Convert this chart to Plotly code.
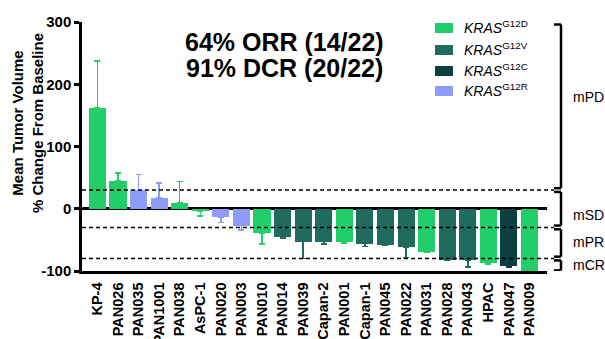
import plotly.graph_objects as go

# Cell-line / PDX models, in waterfall order
models = ["KP-4", "PAN026", "PAN035", "PAN1001", "PAN038", "AsPC-1", "PAN020",
          "PAN003", "PAN010", "PAN014", "PAN039", "Capan-2", "PAN001", "Capan-1",
          "PAN045", "PAN022", "PAN031", "PAN028", "PAN043", "HPAC", "PAN047", "PAN009"]
# Mean tumor volume % change from baseline
mean_change = [162, 45, 29.5, 17.7, 9.7, -4.3, -14, -27, -39, -44.6, -52.7, -52.7,
               -54, -56, -59, -62, -69, -82, -82, -86.5, -92, -100]
# One-sided error (away from zero)
error = [75, 12.5, 25.5, 23.7, 34, 7, 8, 7, 18, 2.4, 27.3, 3.8,
         1, 5, 0, 16.5, 1, 1, 11.5, 2.5, 2, 0]
# KRAS mutation of each model
mutation = ["G12D", "G12D", "G12R", "G12R", "G12D", "G12D", "G12R", "G12R", "G12D",
            "G12V", "G12V", "G12V", "G12D", "G12V", "G12V", "G12V", "G12D", "G12V",
            "G12V", "G12D", "G12C", "G12D"]

mutation_order = ["G12D", "G12V", "G12C", "G12R"]
mutation_colors = {"G12D": "#22CE6A", "G12V": "#1F6B5E", "G12C": "#0C4040", "G12R": "#8F9BFA"}

# Response thresholds (dashed reference lines)
thresholds = [30, -30, -80]
# Response categories with their bracket spans
response_labels = ["mPD", "mSD", "mPR", "mCR"]
response_spans = [(296, 33), (27, -27), (-33, -77), (-83, -99)]
response_label_y = [180, -10, -53, -90]

y_ticks = [300, 200, 100, 0, -100]

W, H = 605, 339
ML, MR, MT, MB = 82, 58, 22, 68
PW, PH = W - ML - MR, H - MT - MB


def px_x(px):
    return (px - ML) / PW


def px_y(py):
    return (H - MB - py) / PH


FONT = "Liberation Sans, Arial, Helvetica, sans-serif"

fig = go.Figure()

for i, m in enumerate(models):
    v = mean_change[i]
    e = error[i]
    col = mutation_colors[mutation[i]]
    fig.add_trace(go.Bar(
        x=[m], y=[v], width=0.83,
        marker=dict(color=col, line=dict(width=0)),
        error_y=dict(type="data", symmetric=False,
                     array=[e if v > 0 else 0], arrayminus=[e if v < 0 else 0],
                     color=col, thickness=1.5, width=3),
        showlegend=False,
    ))

shapes = []
# Dashed threshold lines running out to the bracket
for t in thresholds:
    shapes.append(dict(type="line", xref="paper", yref="y", x0=0, x1=px_x(554),
                       y0=t, y1=t, line=dict(color="black", width=1.5, dash="4px,3px")))

# Response brackets on the right
bx = px_x(561)
tx = px_x(554)
for (top, bot) in response_spans:
    shapes.append(dict(type="line", xref="paper", yref="y", x0=bx, x1=bx, y0=top, y1=bot,
                       line=dict(color="black", width=2.5)))
    shapes.append(dict(type="line", xref="paper", yref="y", x0=tx, x1=bx, y0=top, y1=top,
                       line=dict(color="black", width=2.5)))
    shapes.append(dict(type="line", xref="paper", yref="y", x0=tx, x1=bx, y0=bot, y1=bot,
                       line=dict(color="black", width=2.5)))

annotations = []
for lab, yv in zip(response_labels, response_label_y):
    annotations.append(dict(text=lab, xref="paper", yref="y", x=px_x(571), y=yv,
                            xanchor="left", yanchor="middle", showarrow=False,
                            font=dict(family=FONT, size=14, color="black")))

# Legend drawn as swatches and labels
legend_y = [28, 50, 71, 91]
for mut, ly in zip(mutation_order, legend_y):
    shapes.append(dict(type="rect", xref="paper", yref="paper",
                       x0=px_x(435), x1=px_x(453), y0=px_y(ly - 5), y1=px_y(ly + 5),
                       fillcolor=mutation_colors[mut], line=dict(width=0)))
    annotations.append(dict(text=f"<i>KRAS</i><sup>{mut}</sup>", xref="paper", yref="paper",
                            x=px_x(462), y=px_y(ly - 1), xanchor="left", yanchor="middle",
                            showarrow=False, font=dict(family=FONT, size=14, color="black")))

# Response-rate headline
annotations.append(dict(text="<b>64% ORR (14/22)</b>", xref="paper", yref="paper",
                        x=px_x(284), y=px_y(42), xanchor="center", yanchor="middle",
                        showarrow=False, font=dict(family=FONT, size=25, color="black")))
annotations.append(dict(text="<b>91% DCR (20/22)</b>", xref="paper", yref="paper",
                        x=px_x(284), y=px_y(68), xanchor="center", yanchor="middle",
                        showarrow=False, font=dict(family=FONT, size=25, color="black")))

# Y-axis title
annotations.append(dict(text="<b>Mean Tumor Volume<br>% Change From Baseline</b>",
                        xref="paper", yref="paper", x=px_x(27), y=px_y(123),
                        xanchor="center", yanchor="middle", textangle=-90,
                        showarrow=False, font=dict(family=FONT, size=15, color="black")))

fig.update_layout(
    width=W, height=H,
    margin=dict(l=ML, r=MR, t=MT, b=MB, autoexpand=False),
    plot_bgcolor="white", paper_bgcolor="white",
    bargap=0, barmode="overlay",
    showlegend=False,
    shapes=shapes, annotations=annotations,
    font=dict(family=FONT, color="black"),
)
fig.update_xaxes(
    type="category", categoryorder="array", categoryarray=models,
    range=[-0.75, 21.85], automargin=False,
    showline=True, linecolor="black", linewidth=2.5,
    ticks="", tickangle=-90, ticklabelstandoff=3,
    tickfont=dict(family=FONT, size=14.5, color="black", weight="bold"),
    showgrid=False, zeroline=False,
)
fig.update_yaxes(
    range=[-100, 300], tickvals=y_ticks, ticktext=[str(t) for t in y_ticks],
    automargin=False,
    showline=True, linecolor="black", linewidth=2.5,
    ticks="outside", ticklen=5, tickwidth=2.5, tickcolor="black",
    tickfont=dict(family=FONT, size=15, color="black", weight="bold"),
    showgrid=False, zeroline=True, zerolinecolor="black", zerolinewidth=2.5,
)

fig.write_html("out.html")
